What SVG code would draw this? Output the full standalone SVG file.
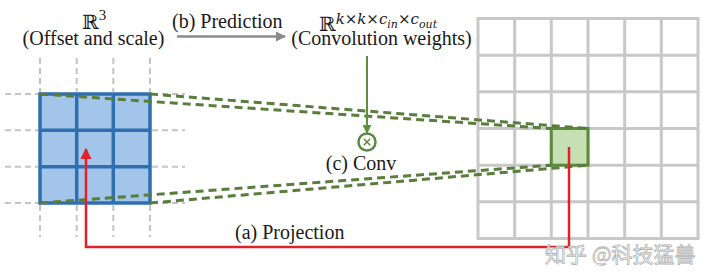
<svg xmlns="http://www.w3.org/2000/svg" width="720" height="278" viewBox="0 0 720 278">
<defs>
<style>
.gd{stroke:#c4c4c4;stroke-width:2;stroke-dasharray:6 4;fill:none}
.gg{stroke:#c8c8c8;stroke-width:3;fill:none}
.gn{stroke:#587d3c;stroke-width:3;stroke-dasharray:8 5;fill:none}
.bl{stroke:#2e6fb0;stroke-width:3.5;fill:none}
</style>
<marker id="ag" viewBox="0 0 10 10" refX="9" refY="5" markerWidth="4" markerHeight="4" orient="auto" markerUnits="strokeWidth"><path d="M0,0 L10,5 L0,10 z" fill="#8a8a8a"/></marker>
<marker id="agr" viewBox="0 0 10 10" refX="9" refY="5" markerWidth="4.5" markerHeight="4.5" orient="auto" markerUnits="strokeWidth"><path d="M0,0 L10,5 L0,10 z" fill="#5e8f3e"/></marker>
<marker id="ar" viewBox="0 0 10 10" refX="9" refY="5" markerWidth="4.5" markerHeight="4.5" orient="auto" markerUnits="strokeWidth"><path d="M0,0 L10,5 L0,10 z" fill="#e0202a"/></marker>
</defs>
<rect width="720" height="278" fill="#ffffff"/>

<g id="output-grid">
<rect x="478" y="18.5" width="220" height="220" class="gg"/>
<path class="gg" d="M514.7,18.5V238.5M551.3,18.5V238.5M588,18.5V238.5M624.7,18.5V238.5M661.3,18.5V238.5M478,55.2H698M478,91.8H698M478,128.5H698M478,165.2H698M478,201.8H698"/>
</g>

<g id="output-pixel">
<rect x="551.3" y="128.5" width="36.7" height="36.7" fill="#c6e0b4" stroke="#5a8a3a" stroke-width="3"/>
</g>

<g id="input-grid-ext">
<path class="gd" d="M5,94H38M152,94H185M5,130.3H38M152,130.3H185M5,166.7H38M152,166.7H185M5,203H38M152,203H185"/>
<path class="gd" d="M40,58V92M76.7,58V92M113.3,58V92M150,58V92M40,205V237M76.7,205V237M113.3,205V237M150,205V237"/>
</g>

<g id="input-patch">
<rect x="40" y="94" width="110" height="109" fill="#a3c5ea"/>
<rect x="40" y="94" width="110" height="109" class="bl"/>
<path class="bl" d="M76.7,94V203M113.3,94V203M40,130.3H150M40,166.7H150"/>
</g>

<g id="connectors">
<path class="gn" d="M40,94L551.3,128.5M150,94L588,128.5M40,203L551.3,165.2M150,203L588,165.2"/>
<line x1="177" y1="36.5" x2="285" y2="36.5" stroke="#8a8a8a" stroke-width="2.5" marker-end="url(#ag)"/>
<line x1="367" y1="56" x2="367" y2="133" stroke="#5e8f3e" stroke-width="2" marker-end="url(#agr)"/>
<polyline points="569,147 569,247 86,247 86,149" fill="none" stroke="#e0202a" stroke-width="2.5" marker-end="url(#ar)"/>
</g>

<g id="conv-op">
<circle cx="367" cy="142" r="8.5" fill="#ffffff" stroke="#5a8a3f" stroke-width="2.5"/>
<path d="M363.8,138.8L370.2,145.2M370.2,138.8L363.8,145.2" stroke="#5a8a3f" stroke-width="1.5"/>
<text font-family="Liberation Serif, Times New Roman, serif" font-size="20" fill="#1a1a1a" x="361" y="170" text-anchor="middle">(c) Conv</text>
</g>

<g id="labels" font-family="Liberation Serif, Times New Roman, serif" font-size="20" fill="#1a1a1a">
<text x="82" y="29" font-family="DejaVu Serif, serif">ℝ<tspan font-family="Liberation Serif, serif" font-size="15" dy="-9">3</tspan></text>
<text x="93.5" y="45" text-anchor="middle">(Offset and scale)</text>
<text x="172" y="28">(b) Prediction</text>
<text x="319" y="31" font-family="DejaVu Serif, serif">ℝ<tspan font-style="italic" font-size="15" dy="-7">k×k×c</tspan><tspan font-style="italic" font-size="11" dy="4">in</tspan><tspan font-style="italic" font-size="15" dy="-4">×c</tspan><tspan font-style="italic" font-size="11" dy="4">out</tspan></text>
<text x="381.5" y="45" text-anchor="middle">(Convolution weights)</text>
<text x="235" y="239">(a) Projection</text>
</g>

<g id="watermark">
<text x="545" y="262" font-family="Noto Sans CJK SC, sans-serif" font-size="21" fill="#ffffff" fill-opacity="0.85" stroke="#b4b4b4" stroke-width="0.8">知乎 @科技猛兽</text>
</g>
</svg>
